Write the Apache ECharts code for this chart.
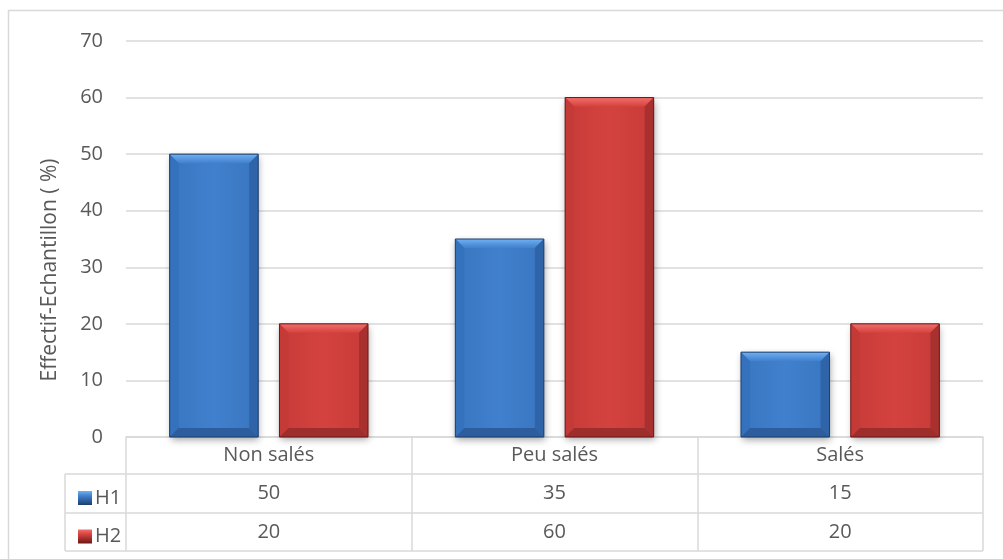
<!DOCTYPE html>
<html>
<head>
<meta charset="utf-8">
<script src="https://cdn.jsdelivr.net/npm/echarts@6/dist/echarts.min.js"></script>
<style>
  html, body { margin: 0; padding: 0; background: #ffffff; }
  #chart { width: 1003px; height: 559px; }
</style>
</head>
<body>
<div id="chart"></div>
<script>
// Categories and values per series
const categories = ['Non salés', 'Peu salés', 'Salés'];
const seriesNames = ['H1', 'H2'];
const valuesH1 = [50, 35, 15];
const valuesH2 = [20, 60, 20];
const yTicks = { min: 0, max: 70, interval: 10 };
const yTitle = 'Effectif-Echantillon ( %)';

// Layout
const W = 1003, H = 559;
const GRID = { left: 126, right: 20, top: 41, bottom: 122 };
const PLOT_BOTTOM = H - GRID.bottom;          // y of value 0 / top of table
const PLOT_RIGHT = W - GRID.right;
const ROWS = [37, 76, 114];                    // table row lines below the plot
const LEGEND_COL_LEFT = 65;
const BAR_RATIO = 0.31;
const GAP_RATIO = 0.24;
const BEVEL = 9;

const FONT = '"Open Sans", "Noto Sans", sans-serif';
const TEXT = '#595959';
const LINE = '#d9d9d9';

const palettes = [
  { body: '#4080cd', light: '#3a76c0', top: '#70b0f2', left: '#3572bd', right: '#2f64a8',
    bottom: '#2d5d9c', edge: '#1c3e6e' },
  { body: '#d4423f', light: '#c73b38', top: '#f26e69', left: '#c43a37', right: '#a83130',
    bottom: '#9e2e2c', edge: '#6a1716' }
];

function bodyFill(p) {
  return new echarts.graphic.LinearGradient(0, 0, 1, 0, [
    { offset: 0, color: p.light },
    { offset: 0.5, color: p.body },
    { offset: 1, color: p.light }
  ]);
}

function legendFill(p) {
  return new echarts.graphic.LinearGradient(0, 0, 0, 1, [
    { offset: 0, color: p.top },
    { offset: 0.35, color: p.body },
    { offset: 1, color: p.edge }
  ]);
}

// Bevelled column drawn from the category scale and the value scale
function makeRenderer(seriesIdx) {
  const p = palettes[seriesIdx];
  return function (params, api) {
    const cat = api.value(0);
    const val = api.value(1);
    const top = api.coord([cat, val]);
    const base = api.coord([cat, 0]);
    const band = api.size([1, 0])[0];
    const w = band * BAR_RATIO;
    const gap = w * GAP_RATIO;
    const cx = top[0] + (seriesIdx === 0 ? -1 : 1) * (w + gap) / 2;
    const x0 = cx - w / 2, x1 = cx + w / 2;
    const y0 = top[1], y1 = base[1];
    const b = Math.min(BEVEL, (y1 - y0) / 2, w / 2);
    return {
      type: 'group',
      children: [
        { type: 'rect', shape: { x: x0, y: y0, width: w, height: y1 - y0 },
          style: { fill: bodyFill(p), shadowBlur: 7, shadowOffsetX: 1, shadowOffsetY: 3,
                   shadowColor: 'rgba(0,0,0,0.35)' } },
        { type: 'polygon', shape: { points: [[x0, y0], [x1, y0], [x1 - b, y0 + b], [x0 + b, y0 + b]] },
          style: { fill: new echarts.graphic.LinearGradient(0, 0, 0, 1, [
            { offset: 0, color: p.top }, { offset: 1, color: p.body }]) } },
        { type: 'polygon', shape: { points: [[x0, y0], [x0 + b, y0 + b], [x0 + b, y1 - b], [x0, y1]] },
          style: { fill: p.left } },
        { type: 'polygon', shape: { points: [[x1, y0], [x1, y1], [x1 - b, y1 - b], [x1 - b, y0 + b]] },
          style: { fill: p.right } },
        { type: 'polygon', shape: { points: [[x0, y1], [x1, y1], [x1 - b, y1 - b], [x0 + b, y1 - b]] },
          style: { fill: p.bottom } },
        { type: 'rect', shape: { x: x0, y: y0, width: w, height: y1 - y0 },
          style: { fill: 'none', stroke: p.edge, lineWidth: 1 } }
      ]
    };
  };
}

const seriesValues = [valuesH1, valuesH2];

const chart = echarts.init(document.getElementById('chart'), null, { renderer: 'canvas' });

const tableLines = [];
// row separators, spanning the legend column and the category columns
ROWS.forEach(function (dy) {
  tableLines.push({ type: 'line', shape: { x1: LEGEND_COL_LEFT, y1: PLOT_BOTTOM + dy, x2: PLOT_RIGHT, y2: PLOT_BOTTOM + dy },
                    style: { stroke: LINE, lineWidth: 1.5 }, silent: true });
});
// legend column left edge
tableLines.push({ type: 'line', shape: { x1: LEGEND_COL_LEFT, y1: PLOT_BOTTOM + ROWS[0], x2: LEGEND_COL_LEFT, y2: PLOT_BOTTOM + ROWS[2] },
                  style: { stroke: LINE, lineWidth: 1.5 }, silent: true });

chart.setOption({
  backgroundColor: '#ffffff',
  animation: false,
  textStyle: { fontFamily: FONT },
  grid: { left: GRID.left, right: GRID.right, top: GRID.top, bottom: GRID.bottom, containLabel: false },
  legend: {
    orient: 'vertical',
    left: 73,
    top: PLOT_BOTTOM + ROWS[0] + 9,
    itemWidth: 14,
    itemHeight: 14,
    itemGap: 18.5,
    icon: 'rect',
    selectedMode: false,
    textStyle: { fontFamily: FONT, fontSize: 20, color: TEXT, lineHeight: 20, padding: [0, 0, 0, -2] },
    data: seriesNames
  },
  xAxis: [
    {
      type: 'category',
      data: categories,
      axisLine: { show: true, lineStyle: { color: LINE, width: 1.5 } },
      axisTick: { show: true, alignWithLabel: false, length: ROWS[2], lineStyle: { color: LINE, width: 1.5 } },
      axisLabel: { fontFamily: FONT, fontSize: 20, color: TEXT, margin: 8, lineHeight: 20 },
      splitLine: { show: false }
    },
    {
      type: 'category',
      data: categories,
      position: 'bottom',
      offset: ROWS[0],
      axisLine: { show: false },
      axisTick: { show: false },
      axisLabel: { fontFamily: FONT, fontSize: 20, color: TEXT, margin: 9, lineHeight: 20,
                   formatter: function (v, i) { return String(valuesH1[i]); } }
    },
    {
      type: 'category',
      data: categories,
      position: 'bottom',
      offset: ROWS[1],
      axisLine: { show: false },
      axisTick: { show: false },
      axisLabel: { fontFamily: FONT, fontSize: 20, color: TEXT, margin: 9, lineHeight: 20,
                   formatter: function (v, i) { return String(valuesH2[i]); } }
    }
  ],
  yAxis: {
    type: 'value',
    min: yTicks.min,
    max: yTicks.max,
    interval: yTicks.interval,
    axisLine: { show: false },
    axisTick: { show: false },
    axisLabel: { fontFamily: FONT, fontSize: 20, color: TEXT, margin: 23 },
    splitLine: { lineStyle: { color: LINE, width: 1.5 } }
  },
  series: seriesNames.map(function (name, s) {
    return {
      type: 'custom',
      name: name,
      xAxisIndex: 0,
      renderItem: makeRenderer(s),
      itemStyle: { color: legendFill(palettes[s]) },
      encode: { x: 0, y: 1 },
      data: seriesValues[s].map(function (v, i) { return [i, v]; }),
      z: 3
    };
  }),
  graphic: [
    { type: 'rect', shape: { x: 8.5, y: 10.5, width: 1000, height: 560 },
      style: { fill: 'none', stroke: LINE, lineWidth: 1.5 }, silent: true, z: -1 },
    // value axis title, set along the left edge
    { type: 'text', x: 50, y: 270, rotation: Math.PI / 2, silent: true,
      style: { text: yTitle, fontFamily: FONT, fontSize: 21, fill: TEXT,
               align: 'center', verticalAlign: 'middle' } }
  ].concat(tableLines)
});
</script>
</body>
</html>
